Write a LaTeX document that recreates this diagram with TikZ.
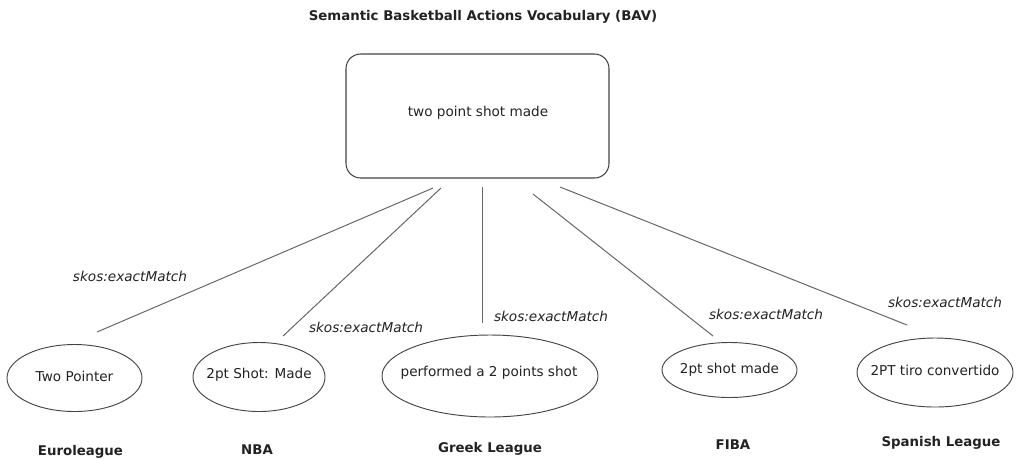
\documentclass[tikz,border=0pt]{standalone}
\usepackage{fontspec}
\setmainfont{DejaVu Sans}
\usetikzlibrary{shapes.geometric}
\definecolor{txt}{HTML}{222222}
\definecolor{ln}{HTML}{666666}
\definecolor{bd}{HTML}{444444}
\begin{document}
\begin{tikzpicture}[x=0.75pt,y=-0.75pt,
  every node/.style={font=\fontsize{10.2pt}{12pt}\selectfont, text=txt, inner sep=0pt},
  oval/.style={ellipse, draw=bd, line width=0.7pt},
  rel/.style={font=\fontsize{10.2pt}{12pt}\selectfont\itshape},
  org/.style={font=\fontsize{10pt}{12pt}\selectfont\bfseries},
  conn/.style={draw=ln, line width=0.75pt}]
\useasboundingbox (0,0) rectangle (1019,458);
\node[font=\fontsize{10pt}{12pt}\selectfont\bfseries] (title) at (483,17) {Semantic Basketball Actions Vocabulary (BAV)};
\node[draw=bd, line width=0.8pt, rounded corners=11pt, minimum width=263*0.75pt, minimum height=124*0.75pt] (top) at (477.5,116) {};
\node (toptext) at (478,113) {two point shot made};

\node[oval, minimum width=135*0.75pt, minimum height=67*0.75pt] (e1) at (74.5,378) {};
\node (t1) at (74.5,376) {Two Pointer};
\node[oval, minimum width=132*0.75pt, minimum height=69*0.75pt] (e2) at (259,377) {};
\node (t2) at (259,375) {2pt Shot: Made};
\node[oval, minimum width=216*0.75pt, minimum height=82*0.75pt] (e3) at (490,376) {};
\node (t3) at (489,373) {performed a 2 points shot};
\node[oval, minimum width=135*0.75pt, minimum height=55*0.75pt] (e4) at (729.5,370) {};
\node (t4) at (729.5,370) {2pt shot made};
\node[oval, minimum width=156*0.75pt, minimum height=69*0.75pt] (e5) at (935,372.5) {};
\node (t5) at (935,370) {2PT tiro convertido};

\node[org] (o1) at (80.5,452) {Euroleague};
\node[org] (o2) at (257,450) {NBA};
\node[org] (o3) at (490,449) {Greek League};
\node[org] (o4) at (733,445) {FIBA};
\node[org] (o5) at (941,443) {Spanish League};

\coordinate (s1) at (433,188); \coordinate (f1) at (97,332);
\coordinate (s2) at (441,188); \coordinate (f2) at (283,336);
\coordinate (s3) at (482.5,187); \coordinate (f3) at (482.5,323);
\coordinate (s4) at (533,194); \coordinate (f4) at (713,336);
\coordinate (s5) at (560,187); \coordinate (f5) at (907,325);
\draw[conn] (s1) -- (f1);
\draw[conn] (s2) -- (f2);
\draw[conn] (s3) -- (f3);
\draw[conn] (s4) -- (f4);
\draw[conn] (s5) -- (f5);

\node[rel] (r1) at (130,276) {skos:exactMatch};
\node[rel] (r2) at (366,327) {skos:exactMatch};
\node[rel] (r3) at (551,316) {skos:exactMatch};
\node[rel] (r4) at (766,314) {skos:exactMatch};
\node[rel] (r5) at (945,302) {skos:exactMatch};
\end{tikzpicture}
\end{document}
